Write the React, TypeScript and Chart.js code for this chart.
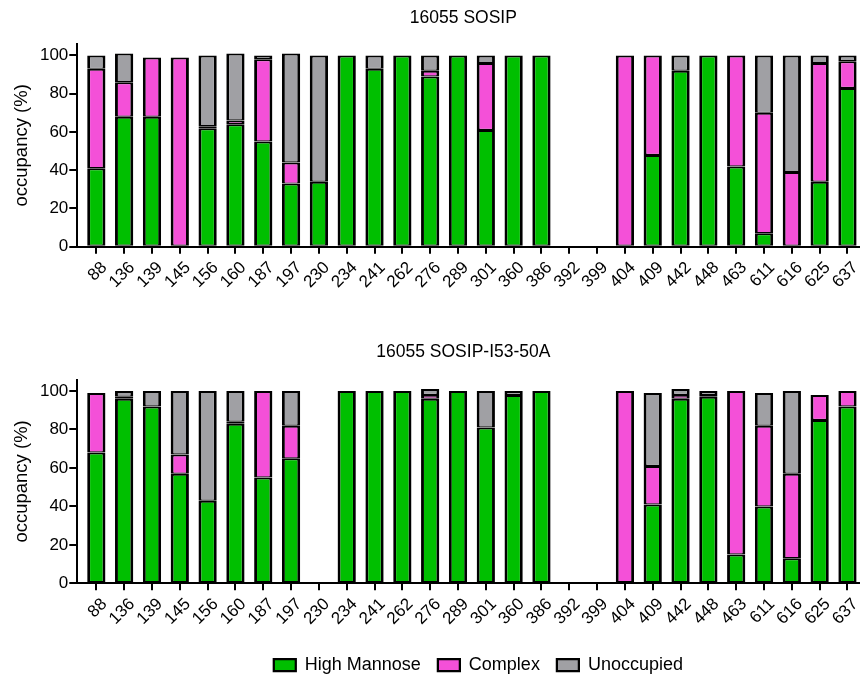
import React, { useEffect, useRef } from "react";
import { Chart, registerables } from "chart.js";

Chart.register(...registerables);

const labels = ["88", "136", "139", "145", "156", "160", "187", "197", "230", "234", "241", "262", "276", "289", "301", "360", "386", "392", "399", "404", "409", "442", "448", "463", "611", "616", "625", "637"];

const topHighMannose = [41, 68, 68, 0, 62, 64, 55, 33, 34, 100, 93, 100, 89, 100, 61, 100, 100, 0, 0, 0, 48, 92, 100, 42, 7, 0, 34, 83];
const topComplex = [52, 18, 31, 99, 1, 2, 43, 11, 0, 0, 0, 0, 3, 0, 35, 0, 0, 0, 0, 100, 52, 0, 0, 58, 63, 39, 62, 14];
const topUnoccupied = [7, 15, 0, 0, 37, 35, 2, 57, 66, 0, 7, 0, 8, 0, 4, 0, 0, 0, 0, 0, 0, 8, 0, 0, 30, 61, 4, 3];

const botHighMannose = [68, 96, 92, 57, 43, 83, 55, 65, 0, 100, 100, 100, 96, 100, 81, 98, 100, 0, 0, 0, 41, 96, 97, 15, 40, 13, 85, 92];
const botComplex = [31, 1, 0, 10, 0, 1, 45, 17, 0, 0, 0, 0, 2, 0, 0, 0, 0, 0, 0, 100, 20, 2, 1, 85, 42, 44, 13, 8];
const botUnoccupied = [0, 3, 8, 33, 57, 16, 0, 18, 0, 0, 0, 0, 3, 0, 19, 2, 0, 0, 0, 0, 38, 3, 2, 0, 17, 43, 0, 0];

const yTickValues = [0, 20, 40, 60, 80, 100];
const seriesNames = ["High Mannose", "Complex", "Unoccupied"];
const seriesColors = ["#00BF00", "#F450D8", "#A0A0A4"];

const FONT = "'Liberation Sans', Arial, sans-serif";

// small layout nudge for the title and legend boxes
const boxShift = {
  id: "boxShift",
  afterLayout(chart: any) {
    if (chart.titleBlock) {
      chart.titleBlock.left -= 5;
      chart.titleBlock.right -= 5;
    }
    if (chart.legend && chart.legend.options.display) {
      chart.legend.left += 10;
      chart.legend.right += 10;
    }
  },
};

function makeConfig(
  title: string,
  hm: number[],
  cx: number[],
  un: number[],
  showLegend: boolean,
  titlePad: { top: number; bottom: number },
  xAxisHeight: number
): any {
  const series = [hm, cx, un];
  return {
    type: "bar",
    plugins: [boxShift],
    data: {
      datasets: series.map((vals, s) => ({
        label: seriesNames[s],
        data: vals.map((v, i) => ({ x: i, y: v })),
        backgroundColor: seriesColors[s],
        borderColor: "#000000",
        borderWidth: { top: 2, bottom: 1.2, left: 2.9, right: 2.9 },
        borderSkipped: false,
        barPercentage: 0.656,
        categoryPercentage: 1,
      })),
    },
    options: {
      animation: false,
      responsive: false,
      maintainAspectRatio: false,
      layout: { padding: { left: 0, right: 0, top: 0, bottom: 0 } },
      plugins: {
        title: {
          display: true,
          text: title,
          color: "#000",
          fullSize: false,
          font: { size: 17.5, weight: "normal", family: FONT, lineHeight: 1.2 },
          padding: titlePad,
        },
        legend: {
          display: showLegend,
          position: "bottom",
          fullSize: false,
          labels: {
            color: "#000",
            boxWidth: 22,
            boxHeight: 12,
            padding: 17,
            font: { size: 18, family: FONT },
          },
        },
        tooltip: { enabled: false },
      },
      scales: {
        x: {
          type: "linear",
          stacked: true,
          offset: false,
          min: -0.684,
          max: 27.43,
          afterBuildTicks: (scale: any) => {
            scale.ticks = labels.map((_, i) => ({ value: i }));
          },
          afterFit: (scale: any) => {
            scale.height = xAxisHeight;
          },
          ticks: {
            autoSkip: false,
            maxRotation: 45,
            minRotation: 45,
            padding: 4,
            labelOffset: 8,
            color: "#000",
            font: { size: 17, family: FONT },
            callback: (v: any) => labels[v] ?? "",
          },
          grid: {
            display: true,
            offset: false,
            drawOnChartArea: false,
            drawTicks: true,
            tickLength: 7,
            color: "#000",
            lineWidth: 2,
          },
          border: { display: true, color: "#000", width: 2 },
        },
        y: {
          stacked: true,
          min: 0,
          max: 106,
          afterBuildTicks: (scale: any) => {
            scale.ticks = yTickValues.map((v) => ({ value: v }));
          },
          afterFit: (scale: any) => {
            scale.width = 77.3;
          },
          ticks: {
            color: "#000",
            padding: 1,
            font: { size: 17, family: FONT },
          },
          title: {
            display: true,
            text: "occupancy (%)",
            color: "#000",
            font: { size: 18.5, family: FONT },
            padding: { top: 10.5, bottom: 0 },
          },
          grid: {
            display: true,
            drawOnChartArea: false,
            drawTicks: true,
            tickLength: 8,
            color: "#000",
            lineWidth: 2,
          },
          border: { display: true, color: "#000", width: 2 },
        },
      },
    },
  };
}

function ChartCanvas(props: { config: any; width: number; height: number; top: number }) {
  const ref = useRef<HTMLCanvasElement | null>(null);
  useEffect(() => {
    if (!ref.current) return;
    const chart = new Chart(ref.current, props.config);
    return () => chart.destroy();
  }, []);
  return (
    <canvas
      ref={ref}
      width={props.width}
      height={props.height}
      style={{ position: "absolute", left: 0, top: props.top, width: props.width, height: props.height }}
    />
  );
}

export default function App() {
  useEffect(() => {
    document.body.style.margin = "0";
    document.body.style.overflow = "hidden";
  }, []);
  const topCfg = makeConfig("16055 SOSIP", topHighMannose, topComplex, topUnoccupied, false, { top: 7.5, bottom: 15.5 }, 53.3);
  const botCfg = makeConfig("16055 SOSIP-I53-50A", botHighMannose, botComplex, botUnoccupied, true, { top: 11.5, bottom: 17 }, 55.7);
  return (
    <div style={{ position: "relative", width: 866, height: 678, overflow: "hidden", background: "#fff" }}>
      <ChartCanvas config={topCfg} width={866} height={300} top={0} />
      <ChartCanvas config={botCfg} width={866} height={354} top={330} />
    </div>
  );
}
